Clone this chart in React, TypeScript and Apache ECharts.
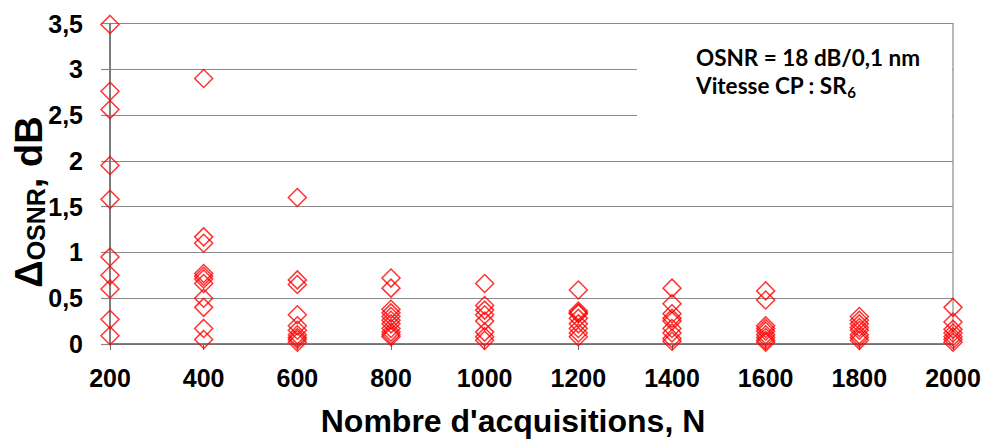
import React, { useEffect, useRef } from "react";
import * as echarts from "echarts";

const acquisitions = [200, 400, 600, 800, 1000, 1200, 1400, 1600, 1800, 2000];
const yTicks = [0, 0.5, 1, 1.5, 2, 2.5, 3, 3.5];

const d200 = [3.49, 2.76, 2.56, 1.95, 1.58, 0.95, 0.75, 0.6, 0.27, 0.09];
const d400 = [2.9, 1.17, 1.1, 0.77, 0.74, 0.71, 0.66, 0.5, 0.4, 0.17, 0.05];
const d600 = [1.6, 0.7, 0.65, 0.32, 0.2, 0.15, 0.1, 0.07, 0.05, 0.02];
const d800 = [0.72, 0.61, 0.38, 0.34, 0.3, 0.26, 0.22, 0.17, 0.13, 0.1, 0.08];
const d1000 = [0.66, 0.42, 0.37, 0.32, 0.25, 0.13, 0.08, 0.04];
const d1200 = [0.59, 0.36, 0.34, 0.33, 0.28, 0.22, 0.17, 0.12, 0.08];
const d1400 = [0.61, 0.44, 0.33, 0.28, 0.25, 0.17, 0.12, 0.06, 0.03];
const d1600 = [0.58, 0.48, 0.2, 0.17, 0.14, 0.1, 0.07, 0.04, 0.02];
const d1800 = [0.3, 0.26, 0.22, 0.18, 0.15, 0.1, 0.07, 0.04];
const d2000 = [0.4, 0.24, 0.16, 0.12, 0.08, 0.05, 0.02];

const columns = [d200, d400, d600, d800, d1000, d1200, d1400, d1600, d1800, d2000];

const xTitle = "Nombre d'acquisitions, N";
const noteLine1 = "OSNR = 18 dB/0,1 nm";
const noteLine2 = "Vitesse CP : SR";
const noteSub = "6";

export default function App() {
  const ref = useRef<HTMLDivElement>(null);
  useEffect(() => {
    if (!ref.current) return;
    const chart = echarts.init(ref.current, undefined, { renderer: "svg" });
    const data: number[][] = [];
    columns.forEach((col, i) => col.forEach((v) => data.push([acquisitions[i], v])));
    const font = "Arial";
    const noteFont = "Lato";
    chart.setOption({
      animation: false,
      backgroundColor: "#ffffff",
      grid: {
        left: 110,
        right: 33,
        top: 23.5,
        bottom: 95,
        show: true,
        borderColor: "#8a8a8a",
        borderWidth: 1.2,
        containLabel: false,
      },
      xAxis: {
        type: "value",
        min: acquisitions[0],
        max: acquisitions[acquisitions.length - 1],
        interval: 200,
        axisLine: { show: true, lineStyle: { color: "#6a6a6a", width: 1.5 } },
        axisTick: { show: true, inside: false, length: 6, lineStyle: { color: "#6a6a6a", width: 1 } },
        splitLine: { show: false },
        axisLabel: {
          color: "#000",
          fontFamily: font,
          fontWeight: "bold",
          fontSize: 25,
          margin: 21,
          formatter: (v: number) => String(v),
        },
      },
      yAxis: {
        type: "value",
        min: yTicks[0],
        max: yTicks[yTicks.length - 1],
        interval: 0.5,
        axisLine: { show: true, lineStyle: { color: "#6a6a6a", width: 1.5 } },
        axisTick: { show: true, inside: false, length: 9, lineStyle: { color: "#8a8a8a", width: 1.2 } },
        splitLine: { show: true, lineStyle: { color: "#8a8a8a", width: 1.2 } },
        axisLabel: {
          color: "#000",
          fontFamily: font,
          fontWeight: "bold",
          fontSize: 25,
          margin: 27,
          formatter: (v: number) => String(v).replace(".", ","),
        },
      },
      series: [
        {
          type: "scatter",
          data,
          symbol: "diamond",
          symbolSize: [18, 18],
          itemStyle: { color: "rgba(0,0,0,0)", borderColor: "#ff0000", borderWidth: 1.5 },
          z: 5,
        },
      ],
      graphic: [
        {
          type: "rect",
          z: 10,
          shape: { x: 637, y: 25, width: 315, height: 115 },
          style: { fill: "#ffffff" },
        },
        {
          type: "text",
          z: 11,
          x: 696,
          y: 57,
          style: {
            text: noteLine1,
            fontFamily: noteFont,
            fontWeight: "bold",
            fontSize: 22.5,
            fill: "#000",
            align: "left",
            verticalAlign: "middle",
          },
        },
        {
          type: "text",
          z: 11,
          x: 696,
          y: 71,
          style: {
            text: "{t|" + noteLine2 + "}{s|" + noteSub + "}",
            fill: "#000",
            align: "left",
            verticalAlign: "top",
            rich: {
              t: {
                fontFamily: noteFont,
                fontWeight: "bold",
                fontSize: 22.5,
                lineHeight: 28,
                verticalAlign: "middle",
                fill: "#000",
              },
              s: {
                fontFamily: noteFont,
                fontWeight: "bold",
                fontSize: 15,
                lineHeight: 12,
                verticalAlign: "bottom",
                fill: "#000",
              },
            },
          },
        },
        {
          type: "text",
          z: 11,
          x: 513,
          y: 421,
          style: {
            text: xTitle,
            fontFamily: font,
            fontWeight: "bold",
            fontSize: 32,
            fill: "#000",
            align: "center",
            verticalAlign: "middle",
          },
        },
        {
          type: "text",
          z: 11,
          x: 29,
          y: 202,
          rotation: Math.PI / 2,
          style: {
            text: "{a|Δ}{b|OSNR}{a|, dB}",
            align: "center",
            verticalAlign: "middle",
            fill: "#000",
            rich: {
              a: {
                fontFamily: font,
                fontWeight: "bold",
                fontSize: 38,
                lineHeight: 38,
                verticalAlign: "bottom",
                fill: "#000",
              },
              b: {
                fontFamily: font,
                fontWeight: "bold",
                fontSize: 25,
                lineHeight: 30,
                verticalAlign: "bottom",
                fill: "#000",
              },
            },
          },
        },
      ],
    });
    return () => chart.dispose();
  }, []);
  return (
    <div
      ref={ref}
      style={{ position: "fixed", left: 0, top: 0, width: 986, height: 439, background: "#fff" }}
    />
  );
}
